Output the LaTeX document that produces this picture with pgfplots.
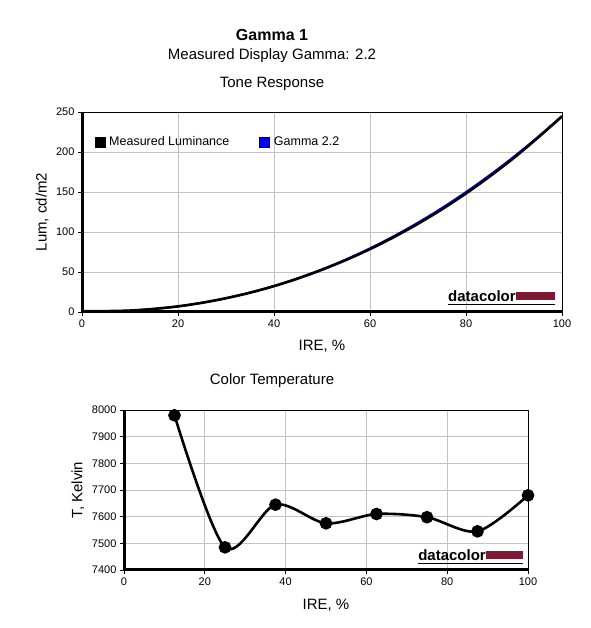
\documentclass[border=0pt]{standalone}
\usepackage{pgfplots}
\pgfplotsset{compat=1.18}
\usepackage{fontspec}
\setmainfont{Liberation Sans}
\definecolor{dcred}{RGB}{125,25,50}
\definecolor{gridgray}{RGB}{195,195,195}
\pgfplotsset{
  myaxis/.style={
    scale only axis,
    anchor=south west,
    axis line style={black, line width=0.8pt},
    grid=major,
    major grid style={gridgray, line width=0.8pt},
    tick align=outside,
    tick pos=left,
    major tick length=4pt,
    tick style={black, line width=0.8pt},
    /pgf/number format/assume math mode=true,
    ticklabel style={font=\fontsize{11}{12}\selectfont},
    label style={font=\fontsize{15}{17}\selectfont},
    clip=false,
  }
}
\begin{document}
\begin{tikzpicture}[x=1pt,y=1pt]
\path[fill=white] (0,0) rectangle (590,628);
\node[font=\fontsize{16}{18}\selectfont\bfseries] at (272,593) {Gamma 1};
\node[font=\fontsize{15}{17}\selectfont] at (272,572) {Measured Display Gamma: 2.2};
\node[font=\fontsize{15}{17}\selectfont] at (272,544) {Tone Response};
\node[font=\fontsize{15}{17}\selectfont] at (272,247) {Color Temperature};

\begin{axis}[myaxis,
  at={(82pt,316pt)}, width=480pt, height=200pt,
  xmin=0, xmax=100, ymin=0, ymax=250,
  xtick={0,20,...,100}, ytick={0,50,...,250},
  xlabel={IRE, \%}, ylabel={Lum, cd/m2},
  xlabel style={at={(axis description cs:0.5,-0.17)}, anchor=center},
  ylabel style={at={(axis description cs:-0.083,0.5)}, anchor=center},
  legend columns=2,
  legend style={draw=none, fill=none, at={(rel axis cs:0.02,0.85)}, anchor=west,
    font=\fontsize{12.5}{13}\selectfont,
    /tikz/every odd column/.append style={column sep=2pt},
    /tikz/every even column/.append style={column sep=28pt}},
]
\addlegendimage{legend image code/.code={\fill[black] (0pt,-5pt) rectangle (10pt,5pt);}}
\addlegendentry{Measured Luminance}
\addlegendimage{legend image code/.code={\filldraw[fill=blue,draw=black,line width=0.5pt] (0pt,-5pt) rectangle (10pt,5pt);}}
\addlegendentry{Gamma 2.2}
\addplot[blue, line width=2pt, smooth, forget plot] coordinates {
(0,0) (5,0.34) (10,1.55) (15,3.77) (20,7.10) (25,11.61) (30,17.33) (35,24.33) (40,32.64) (45,42.29) (50,53.32) (55,65.76) (60,79.63) (65,94.96) (70,111.8) (75,130.1) (80,150.0) (85,171.4) (90,194.3) (95,218.9) (100,245.0)};
\addplot[black, line width=2.6pt, smooth, forget plot] coordinates {
(0,1.0) (5,1.1) (10,1.8) (15,3.9) (20,7.0) (25,11.5) (30,17.2) (35,24.1) (40,32.3) (45,41.9) (50,52.8) (55,65.0) (60,78.6) (65,93.7) (70,110.3) (75,128.4) (80,148.2) (85,169.7) (90,192.8) (95,218.0) (100,244.5)};
\draw[black, line width=3pt] (rel axis cs:0,1) -- (rel axis cs:0,0) -- (rel axis cs:1,0);
\node[anchor=west, inner sep=0pt, font=\fontsize{15}{15}\selectfont\bfseries] (dc1) at (rel axis cs:0.7625,0.077) {datacolor};
\fill[dcred] ([yshift=-3.5pt]dc1.east) rectangle ([yshift=4.5pt]rel axis cs:0.985,0.077);
\draw[black, line width=1pt] ([yshift=-7.5pt]dc1.west) -- ([yshift=-7.5pt]rel axis cs:0.985,0.077);
\end{axis}

\begin{axis}[myaxis,
  at={(124pt,58pt)}, width=404pt, height=160pt,
  xmin=0, xmax=100, ymin=7400, ymax=8000,
  xtick={0,20,...,100}, ytick={7400,7500,...,8000},
  xlabel={IRE, \%}, ylabel={T, Kelvin},
  xlabel style={at={(axis description cs:0.5,-0.22)}, anchor=center},
  ylabel style={at={(axis description cs:-0.114,0.5)}, anchor=center},
  yticklabel style={/pgf/number format/1000 sep={}},
]
\addplot[black, line width=2.6pt, smooth, mark=*, mark size=5pt, mark options={fill=black}] coordinates {
(12.5,7980) (25,7485) (37.5,7645) (50,7575) (62.5,7610) (75,7598) (87.5,7545) (100,7680)};
\draw[black, line width=3pt] (rel axis cs:0,1) -- (rel axis cs:0,0) -- (rel axis cs:1,0);
\node[anchor=west, inner sep=0pt, font=\fontsize{15}{15}\selectfont\bfseries] (dc2) at (rel axis cs:0.728,0.09) {datacolor};
\fill[dcred] ([yshift=-3.5pt]dc2.east) rectangle ([yshift=4.5pt]rel axis cs:0.988,0.09);
\draw[black, line width=1pt] ([yshift=-7.5pt]dc2.west) -- ([yshift=-7.5pt]rel axis cs:0.988,0.09);
\end{axis}
\end{tikzpicture}
\end{document}
